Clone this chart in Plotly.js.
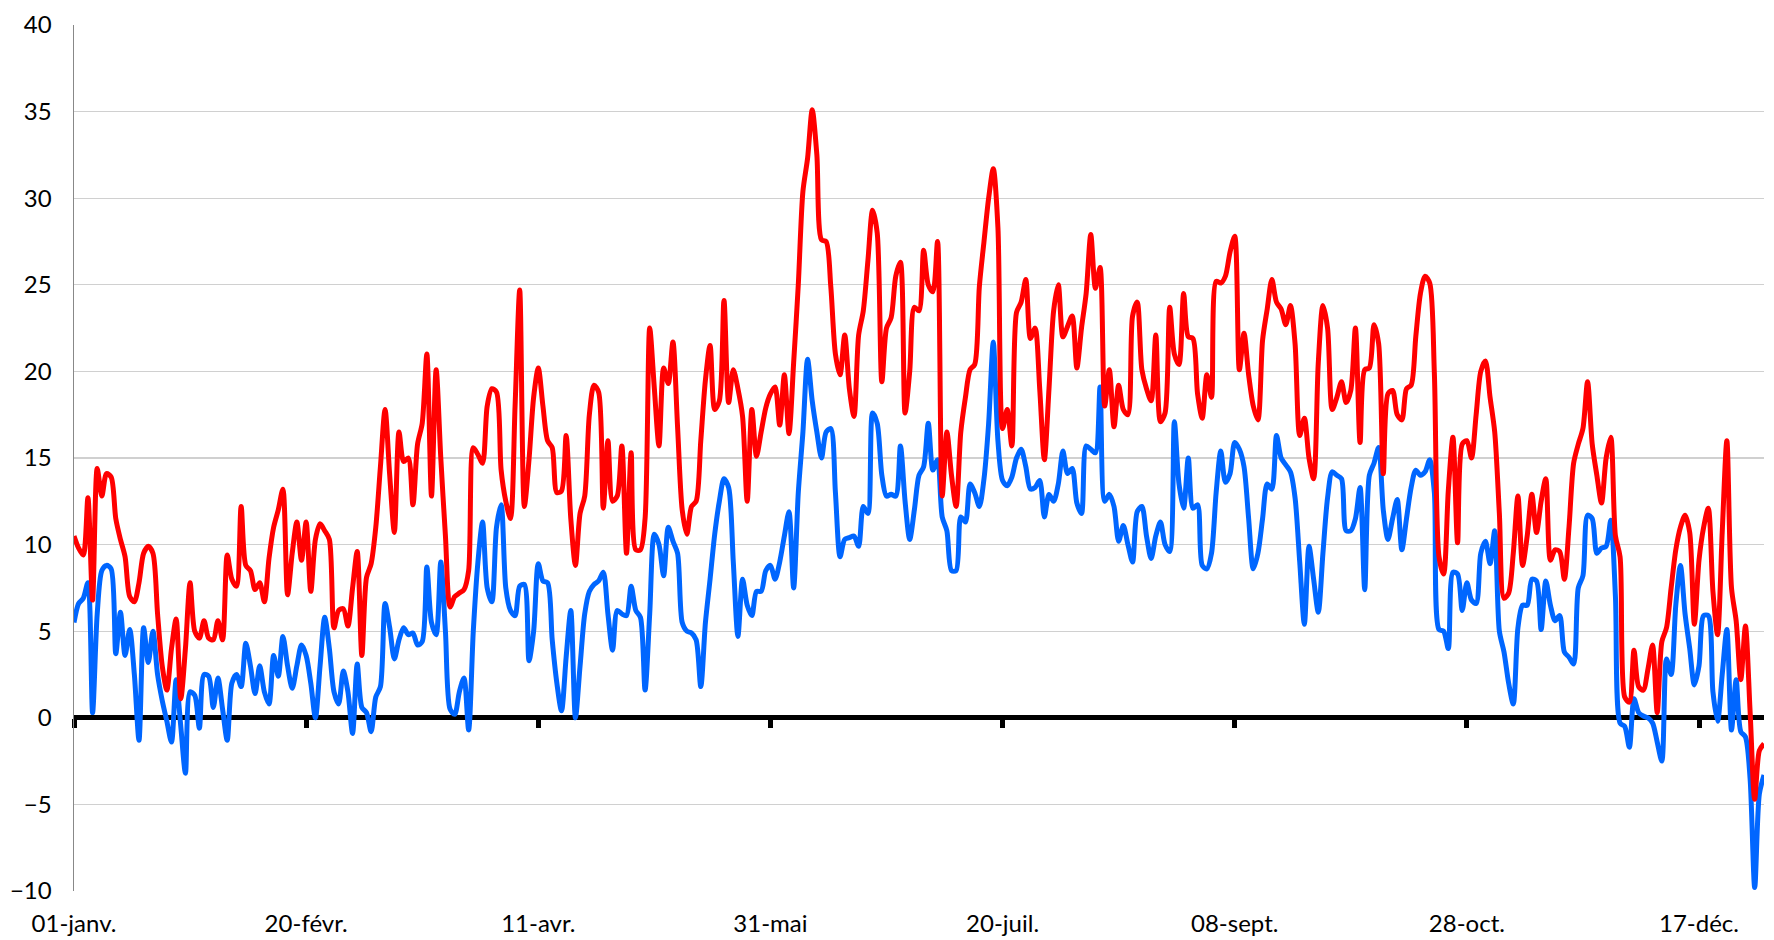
<!DOCTYPE html>
<html>
<head>
<meta charset="utf-8">
<script src="https://cdn.plot.ly/plotly-3.0.1.min.js"></script>
<style>
html,body{margin:0;padding:0;background:#fff;}
#chart{width:1774px;height:940px;}
</style>
</head>
<body>
<div id="chart"></div>
<script>
const tickDays = [0, 50, 100, 150, 200, 250, 300, 350];
const tickLabels = ['01-janv.', '20-févr.', '11-avr.', '31-mai', '20-juil.', '08-sept.', '28-oct.', '17-déc.'];
const yTicks = [-10, -5, 0, 5, 10, 15, 20, 25, 30, 35, 40];

const tmax = [
10.5, 9.8, 9.4, 12.7, 6.8, 14.4, 12.8, 14.1, 13.9, 11.5,
10.3, 9.3, 7.0, 6.7, 7.8, 9.5, 9.9, 9.5, 6.0, 3.0,
1.6, 4.0, 5.7, 1.1, 4.0, 7.8, 5.0, 4.6, 5.6, 4.6,
4.5, 5.6, 4.5, 9.4, 8.0, 7.6, 12.2, 8.8, 8.5, 7.4,
7.8, 6.7, 9.2, 11.0, 12.0, 13.2, 7.1, 9.5, 11.3, 9.1,
11.3, 7.3, 10.3, 11.2, 10.8, 10.3, 5.2, 6.2, 6.3, 5.3,
7.5, 9.6, 3.6, 8.1, 8.9, 11.0, 14.5, 17.8, 14.0, 10.7,
16.5, 14.8, 15.0, 12.3, 15.8, 17.0, 21.0, 12.8, 20.1, 15.0,
10.5, 6.4, 7.0, 7.2, 7.4, 8.5, 15.6, 15.2, 14.7, 18.0,
19.0, 18.8, 14.3, 12.5, 11.5, 18.0, 24.7, 12.2, 14.9, 18.5,
20.2, 18.0, 16.0, 15.6, 13.0, 13.1, 16.3, 11.5, 8.8, 11.8,
12.8, 17.5, 19.2, 18.8, 12.1, 16.0, 12.5, 12.8, 15.7, 9.5,
15.3, 9.7, 9.7, 11.5, 22.5, 19.0, 15.7, 20.2, 19.3, 21.7,
16.8, 12.0, 10.6, 12.2, 12.5, 16.0, 19.5, 21.5, 17.8, 18.3,
24.1, 18.2, 20.1, 19.0, 17.4, 12.5, 17.8, 15.1, 16.5, 17.9,
18.7, 19.1, 16.9, 19.8, 16.4, 20.5, 25.0, 30.4, 32.3, 35.1,
32.5, 27.6, 27.5, 24.9, 21.0, 19.8, 22.1, 19.0, 17.4, 22.1,
23.5, 26.4, 29.3, 28.0, 19.4, 22.5, 23.1, 25.5, 26.3, 17.6,
20.0, 23.7, 23.5, 27.0, 25.0, 24.6, 27.5, 12.8, 16.5, 14.0,
12.2, 16.5, 18.5, 20.1, 20.4, 24.9, 27.5, 30.0, 31.7, 28.3,
16.7, 17.8, 15.7, 23.4, 24.0, 25.3, 21.9, 22.5, 19.0, 14.9,
19.0, 23.5, 25.0, 22.0, 22.6, 23.2, 20.2, 22.5, 24.5, 27.9,
24.8, 26.0, 18.0, 20.1, 16.8, 19.2, 17.8, 17.5, 23.2, 24.0,
20.1, 19.0, 18.3, 22.1, 17.1, 17.6, 23.7, 21.0, 20.4, 24.5,
22.0, 21.9, 18.7, 17.3, 19.8, 18.5, 25.2, 25.1, 25.5, 26.9,
27.8, 20.1, 22.2, 19.8, 18.0, 17.2, 21.8, 23.6, 25.3, 24.0,
23.6, 22.7, 23.8, 21.6, 16.3, 17.3, 15.0, 13.8, 20.5, 23.8,
22.5, 17.8, 18.5, 19.4, 18.2, 18.9, 22.5, 15.9, 20.1, 20.2,
22.7, 21.6, 14.1, 18.7, 18.9, 17.5, 17.2, 19.0, 19.2, 22.0,
24.5, 25.5, 25.1, 19.9, 9.3, 8.3, 13.1, 16.2, 10.1, 15.8,
16.0, 15.0, 17.5, 20.0, 20.6, 18.5, 16.5, 11.8, 6.9, 7.2,
9.5, 12.8, 8.8, 10.5, 12.9, 10.7, 12.5, 13.8, 9.1, 9.7,
9.6, 8.0, 11.0, 14.7, 15.8, 16.7, 19.4, 15.8, 14.0, 12.4,
15.0, 16.2, 10.5, 9.3, 1.2, 0.9, 3.9, 1.8, 1.6, 2.8,
4.2, 0.3, 4.4, 5.2, 7.5, 9.7, 11.0, 11.7, 10.7, 5.4,
9.1, 11.0, 12.1, 7.3, 4.8, 10.7, 16.0, 7.5, 5.6, 2.2,
5.3, 0.4, -4.7, -1.9, -1.5
];

const tmin = [
5.5, 6.6, 6.9, 7.8, 0.3, 6.0, 8.5, 8.8, 8.6, 3.7,
6.1, 3.6, 5.1, 2.5, -1.3, 5.2, 3.2, 5.0, 2.5, 1.0,
-0.2, -1.4, 2.2, -0.5, -3.2, 1.5, 1.3, -0.6, 2.5, 2.4,
0.6, 2.3, 0.5, -1.3, 2.0, 2.5, 1.8, 4.3, 3.0, 1.4,
3.0, 1.5, 0.8, 3.6, 2.4, 4.7, 3.0, 1.7, 3.0, 4.2,
3.6, 2.0, 0.0, 3.0, 5.8, 4.0, 1.5, 0.8, 2.7, 1.5,
-0.9, 3.1, 0.6, 0.3, -0.8, 1.2, 1.8, 6.6, 5.2, 3.4,
4.5, 5.2, 4.8, 4.9, 4.2, 4.4, 8.7, 5.5, 4.8, 9.0,
5.0, 0.5, 0.2, 1.5, 2.3, -0.7, 5.0, 9.0, 11.3, 7.5,
6.7, 11.0, 12.3, 7.5, 6.2, 5.9, 7.6, 7.7, 3.3, 5.0,
8.9, 7.9, 7.8, 4.5, 2.0, 0.4, 3.5, 6.2, 0.0, 3.0,
6.0, 7.3, 7.7, 7.9, 8.4, 6.0, 3.9, 6.2, 6.0, 5.9,
7.6, 6.2, 5.8, 1.6, 6.0, 10.6, 10.0, 8.2, 11.0, 10.2,
9.5, 5.5, 5.0, 4.9, 4.5, 1.8, 5.5, 8.0, 10.6, 12.5,
13.8, 13.3, 9.0, 4.7, 8.0, 6.5, 5.9, 7.3, 7.3, 8.5,
8.8, 8.0, 9.0, 10.5, 11.9, 7.5, 13.0, 16.5, 20.7, 18.3,
16.5, 15.0, 16.5, 16.7, 13.0, 9.3, 10.3, 10.4, 10.5, 9.9,
12.2, 11.8, 17.6, 17.0, 14.0, 12.8, 12.9, 12.8, 15.7, 12.5,
10.3, 12.0, 14.0, 14.5, 17.0, 14.3, 14.9, 11.6, 10.8, 8.5,
8.5, 11.6, 11.3, 13.5, 13.0, 12.2, 13.8, 17.0, 21.7, 16.0,
13.7, 13.4, 13.9, 15.0, 15.5, 14.5, 13.2, 13.3, 13.7, 11.6,
12.9, 12.5, 13.5, 15.4, 14.1, 14.4, 12.4, 11.8, 15.7, 15.5,
15.3, 19.1, 12.5, 12.9, 12.2, 10.2, 11.1, 10.0, 9.0, 11.9,
12.2, 10.5, 9.2, 10.5, 11.3, 10.0, 9.6, 17.1, 13.5, 12.1,
15.0, 12.1, 12.3, 8.8, 8.6, 9.5, 13.0, 15.4, 13.6, 14.1,
15.9, 15.5, 14.5, 11.5, 8.6, 9.5, 11.5, 13.5, 13.2, 16.3,
15.0, 14.6, 14.2, 12.7, 9.0, 5.4, 9.9, 8.0, 6.1, 9.5,
12.7, 14.2, 14.0, 13.8, 10.8, 10.8, 11.5, 13.3, 7.4, 14.0,
14.7, 15.6, 12.0, 10.3, 11.5, 12.6, 9.7, 11.5, 13.3, 14.3,
14.0, 14.2, 14.9, 13.0, 5.1, 5.0, 4.0, 8.4, 8.3, 6.2,
7.8, 6.8, 6.6, 9.5, 10.2, 8.9, 10.8, 5.0, 3.8, 2.0,
0.8, 5.2, 6.5, 6.5, 8.0, 7.9, 5.1, 7.9, 6.5, 5.6,
5.9, 3.8, 3.5, 3.1, 7.5, 8.2, 11.7, 11.5, 9.5, 9.8,
9.9, 11.4, 7.0, -0.3, -0.5, -1.7, 1.1, 0.3, 0.1, 0.0,
-0.3, -1.4, -2.5, 3.4, 2.5, 6.5, 8.8, 6.0, 4.0, 1.9,
3.0, 5.9, 5.9, 1.5, -0.2, 2.5, 5.1, -0.7, 2.2, -0.8,
-1.1, -3.5, -9.8, -4.4, -3.3
];

const days = tmax.map((_, i) => i);

const FONT = 'Lato, "Open Sans", sans-serif';

const traces = [
  {x: days, y: tmin, type: 'scatter', mode: 'lines', name: 'Tmin',
   line: {color: '#0066ff', width: 5, shape: 'spline', smoothing: 0.8},
   hoverinfo: 'x+y', showlegend: false},
  {x: days, y: tmax, type: 'scatter', mode: 'lines', name: 'Tmax',
   line: {color: '#ff0000', width: 5, shape: 'spline', smoothing: 0.8},
   hoverinfo: 'x+y', showlegend: false},
  {x: [], y: [], xaxis: 'x2', yaxis: 'y', type: 'scatter', mode: 'lines',
   showlegend: false, hoverinfo: 'skip'}
];

const layout = {
  width: 1774, height: 940,
  margin: {l: 74, r: 10, t: 25, b: 49, pad: 0},
  paper_bgcolor: '#ffffff', plot_bgcolor: '#ffffff',
  font: {family: FONT, size: 24, color: '#000000'},
  showlegend: false,
  xaxis: {
    range: [0, 364], fixedrange: true,
    tickmode: 'array', tickvals: tickDays, ticktext: tickLabels,
    showgrid: false, zeroline: false, showline: false,
    ticks: 'outside', ticklen: 11, tickcolor: 'rgba(0,0,0,0)',
    tickfont: {family: FONT, size: 24, color: '#000000'}
  },
  xaxis2: {
    overlaying: 'x', anchor: 'free', position: 0.2, side: 'bottom',
    range: [0, 364], fixedrange: true,
    tickmode: 'array', tickvals: tickDays, showticklabels: false,
    showgrid: false, zeroline: false, showline: false,
    ticks: 'outside', ticklen: 9, tickwidth: 5, tickcolor: '#000000',
    layer: 'below traces'
  },
  yaxis: {
    range: [-10, 40], fixedrange: true,
    tickmode: 'array', tickvals: yTicks,
    showgrid: true, gridcolor: '#d0d0d0', gridwidth: 1.2,
    zeroline: true, zerolinecolor: '#000000', zerolinewidth: 5,
    showline: true, linecolor: '#888888', linewidth: 1.5,
    ticks: 'outside', ticklen: 16, tickcolor: 'rgba(0,0,0,0)',
    tickfont: {family: FONT, size: 24, color: '#000000'}
  }
};

Plotly.newPlot('chart', traces, layout, {displayModeBar: false, staticPlot: true});
</script>
</body>
</html>
